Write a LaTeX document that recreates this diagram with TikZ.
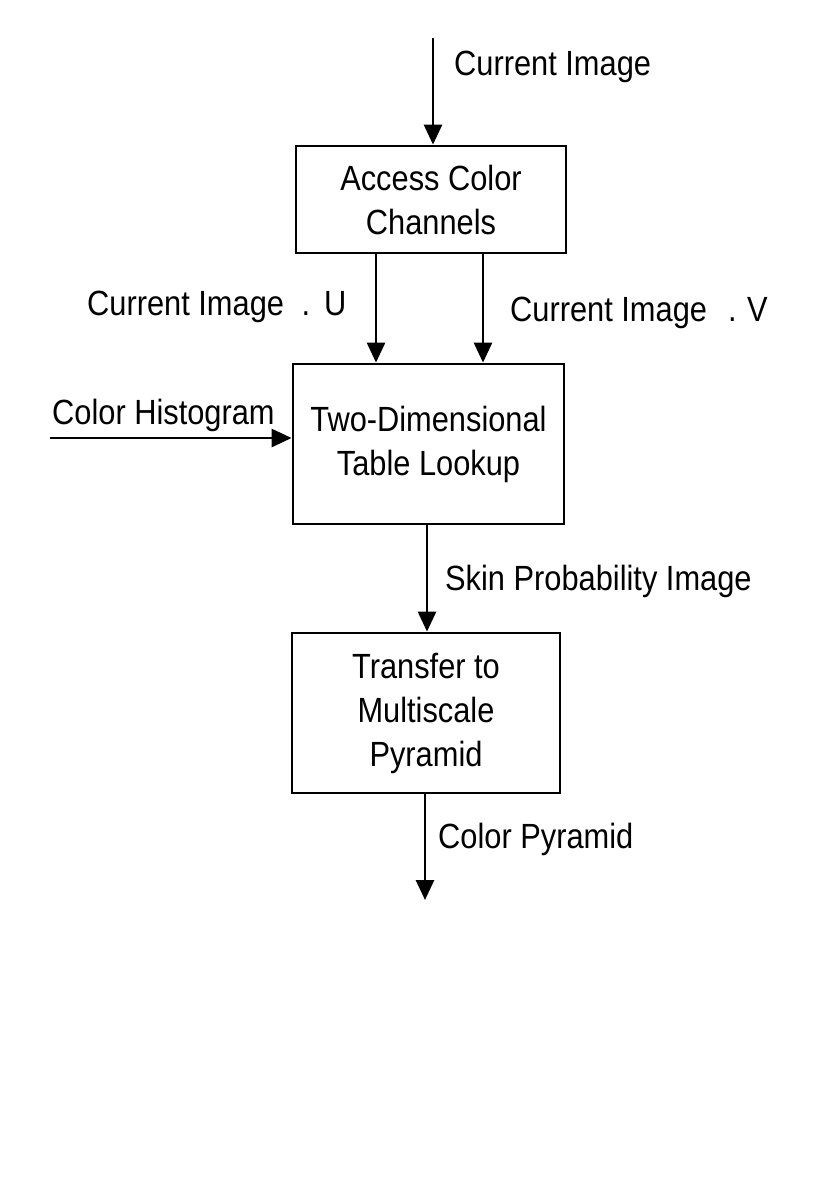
\documentclass[tikz,border=0pt]{standalone}
\usepackage{fontspec}
\setmainfont[FakeStretch=0.88]{Liberation Sans}
\usetikzlibrary{arrows.meta}
\begin{document}
\begin{tikzpicture}[x=1pt,y=-1pt,
  lbl/.style={font=\fontsize{35}{44}\selectfont, inner sep=0pt, anchor=base west},
  blk/.style={draw, line width=2.8pt, rectangle, align=center, inner sep=0pt,
              font=\fontsize{35}{44}\selectfont},
  arr/.style={line width=2.8pt, -{Triangle[length=20pt,width=18pt]}}]
\useasboundingbox (0,0) rectangle (829,1187);

% boxes
\node[blk, minimum width=270pt, minimum height=107pt] (b1) at (431,199.5) {Access Color\\Channels};
\node[blk, minimum width=271pt, minimum height=160pt] (b2) at (428.5,444) {Two-Dimensional\\Table Lookup};
\node[blk, minimum width=268pt, minimum height=160pt] (b3) at (426,713) {Transfer to\\Multiscale\\Pyramid};

% free ends
\coordinate (in) at (433,38);
\coordinate (hist) at (50,438);
\coordinate (out) at (425,900);
\coordinate (ux) at (376,0);
\coordinate (vx) at (483,0);
\coordinate (sx) at (427,0);

% connectors
\draw[arr] (in) -- (in |- b1.north);
\draw[arr] (ux |- b1.south) -- (ux |- b2.north);
\draw[arr] (vx |- b1.south) -- (vx |- b2.north);
\draw[arr] (hist) -- (hist -| b2.west);
\draw[arr] (sx |- b2.south) -- (sx |- b3.north);
\draw[arr] (out |- b3.south) -- (out);

% labels
\node[lbl] (l1) at (454,75) {Current Image};
\node[lbl] (l2) at (87,315) {Current Image\hspace{0.5em}.\hspace{0.4em}U};
\node[lbl] (l3) at (510,321) {Current Image\hspace{0.6em}.\hspace{0.3em}V};
\node[lbl] (l4) at (52,424) {Color Histogram};
\node[lbl] (l5) at (445,590) {Skin Probability Image};
\node[lbl] (l6) at (438,848) {Color Pyramid};
\end{tikzpicture}
\end{document}
